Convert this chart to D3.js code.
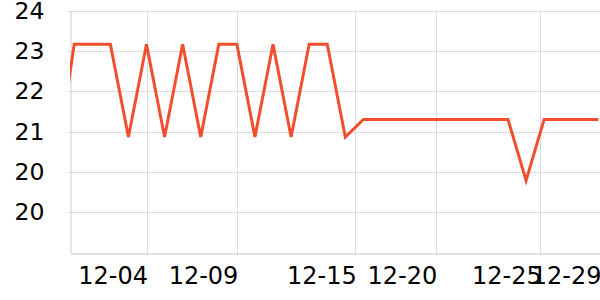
<!DOCTYPE html>
<html>
<head>
<meta charset="utf-8">
<script src="https://cdn.jsdelivr.net/npm/d3@7"></script>
<style>
  html, body { margin: 0; padding: 0; background: #fff; }
  svg { display: block; font-family: "DejaVu Sans", sans-serif; }
</style>
</head>
<body>
<svg id="chart" width="600" height="300"></svg>
<script>
// ---- data ----
const dates = [
  "2023-11-29", "2023-11-30", "2023-12-01", "2023-12-02", "2023-12-03",
  "2023-12-04", "2023-12-05", "2023-12-06", "2023-12-07", "2023-12-08",
  "2023-12-09", "2023-12-10", "2023-12-11", "2023-12-12", "2023-12-13",
  "2023-12-14", "2023-12-15", "2023-12-16", "2023-12-17", "2023-12-18",
  "2023-12-19", "2023-12-20", "2023-12-21", "2023-12-22", "2023-12-23",
  "2023-12-24", "2023-12-25", "2023-12-26", "2023-12-27", "2023-12-28",
  "2023-12-29"
];
const values = [
  20.5, 22.93, 22.93, 22.93, 21.09,
  22.93, 21.09, 22.93, 21.09, 22.93,
  22.93, 21.09, 22.93, 21.09, 22.93,
  22.93, 21.09, 21.44, 21.44, 21.44,
  21.44, 21.44, 21.44, 21.44, 21.44,
  21.44, 20.23, 21.44, 21.44, 21.44,
  21.44
];
// x axis tick positions (as rendered in the reference) and their labels
const xTickTimes = [
  "2023-12-04T00:00Z", "2023-12-09T00:00Z", "2023-12-15T13:15Z",
  "2023-12-20T00:00Z", "2023-12-25T18:50Z", "2023-12-29T02:10Z"
];
const xTickLabels = ["12-04", "12-09", "12-15", "12-20", "12-25", "12-29"];
const xDomain = ["2023-11-29T18:25Z", "2023-12-29T02:10Z"];
const yDomain = [18.8, 23.6];
const yTicks = [19.6, 20.4, 21.2, 22.0, 22.8, 23.6];

// ---- layout ----
const W = 600, H = 300;
const m = { left: 70, right: 0, top: 10.5, bottom: 47.5 };

const svg = d3.select("#chart");

const x = d3.scaleUtc()
  .domain(xDomain.map(d => new Date(d)))
  .range([m.left, W - m.right]);
const y = d3.scaleLinear()
  .domain(yDomain)
  .range([H - m.bottom, m.top]);

const data = dates.map((d, i) => ({ t: new Date(d + "T00:00Z"), v: values[i] }));

// clip
svg.append("defs").append("clipPath").attr("id", "plot")
  .append("rect")
  .attr("x", m.left).attr("y", 0)
  .attr("width", W - m.left - m.right).attr("height", H - m.bottom + 2);

// horizontal grid
svg.append("g")
  .selectAll("line")
  .data(yTicks)
  .join("line")
  .attr("x1", m.left - 2).attr("x2", W - m.right)
  .attr("y1", d => Math.round(y(d)) + 0.5).attr("y2", d => Math.round(y(d)) + 0.5)
  .attr("stroke", "#dddddd").attr("stroke-width", 1);

// vertical grid
const xt = xTickTimes.map(d => new Date(d));
svg.append("g")
  .selectAll("line")
  .data(xt)
  .join("line")
  .attr("x1", d => Math.round(x(d)) + 0.5).attr("x2", d => Math.round(x(d)) + 0.5)
  .attr("y1", m.top).attr("y2", H - m.bottom + 3)
  .attr("stroke", "#dddddd").attr("stroke-width", 1);

// y axis
const yAxis = d3.axisLeft(y)
  .tickValues(yTicks)
  .tickFormat(d3.format(".0f"))
  .tickSize(0)
  .tickPadding(26);
const gy = svg.append("g")
  .attr("transform", `translate(${m.left + 0.5},0)`)
  .call(yAxis);
gy.select(".domain").attr("stroke", "#cccccc");
gy.selectAll("text")
  .attr("font-size", 23.5).attr("fill", "#000")
  .attr("font-family", "DejaVu Sans, sans-serif");

// x axis
const xAxis = d3.axisBottom(x)
  .tickValues(xt)
  .tickFormat((d, i) => xTickLabels[i])
  .tickSize(0)
  .tickPadding(0);
const gx = svg.append("g")
  .attr("transform", `translate(0,${Math.round(H - m.bottom) + 0.5})`)
  .call(xAxis);
gx.select(".domain").attr("stroke", "#c4c4c4");
gx.selectAll("text")
  .attr("font-size", 24).attr("fill", "#000")
  .attr("font-family", "DejaVu Sans, sans-serif")
  .attr("text-anchor", "end")
  .attr("dx", 1)
  .attr("dy", 0)
  .attr("y", 30.5);

// line
const line = d3.line()
  .x(d => x(d.t))
  .y(d => y(d.v));
svg.append("path")
  .datum(data)
  .attr("clip-path", "url(#plot)")
  .attr("d", line)
  .attr("fill", "none")
  .attr("stroke", "#f04e2d")
  .attr("stroke-width", 3);
</script>
</body>
</html>
